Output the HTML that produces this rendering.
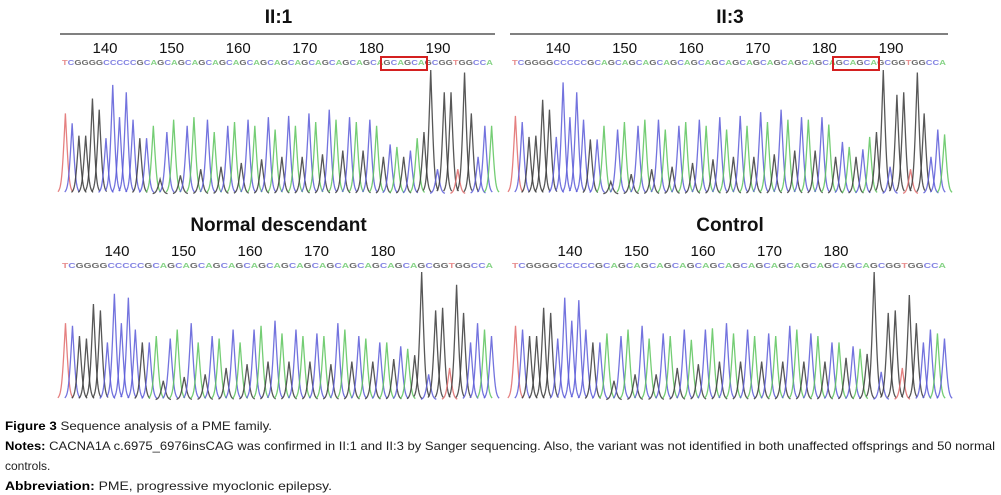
<!DOCTYPE html>
<html><head><meta charset="utf-8"><style>
html,body{margin:0;padding:0;background:#fff;}
svg{display:block;}
</style></head><body>
<svg id="fig" width="1001" height="495" viewBox="0 0 1001 495" xmlns="http://www.w3.org/2000/svg">
<g id="panels"></g>
<g font-family="'Liberation Sans', sans-serif" font-size="12" fill="#222">
<text x="5" y="430" textLength="267" lengthAdjust="spacingAndGlyphs"><tspan font-weight="bold" fill="#000">Figure 3</tspan> Sequence analysis of a PME family.</text>
<text x="5" y="450" textLength="990" lengthAdjust="spacingAndGlyphs"><tspan font-weight="bold" fill="#000">Notes:</tspan> CACNA1A c.6975_6976insCAG was confirmed in II:1 and II:3 by Sanger sequencing. Also, the variant was not identified in both unaffected offsprings and 50 normal</text>
<text x="5" y="470" font-size="12">controls.</text>
<text x="5" y="490" textLength="327" lengthAdjust="spacingAndGlyphs"><tspan font-weight="bold" fill="#000">Abbreviation:</tspan> PME, progressive myoclonic epilepsy.</text>
</g>
</svg>
<script>
// data
const tlBases = "TCGGGGCCCCCG" + "CAG".repeat(14) + "GCGGTGGCCA";
const tlHeights = [.65,.57,.47,.47,.77,.68,.45,.88,.62,.82,.6,.45,
 .45,.55,.12,.5,.6,.15,.55,.62,.2,.6,.5,.22,.55,.58,.25,.6,.55,.28,.62,.52,.3,.63,.55,.3,.65,.58,.32,.68,.6,.35,.62,.58,.35,.6,.55,.3,.4,.38,.3,.35,.45,.5,
 1.0,.2,.82,.82,.2,.98,.65,.3,.55,.55];
const trHeights = [.63,.58,.46,.47,.76,.68,.46,.9,.62,.82,.6,.44,
 .44,.55,.1,.52,.58,.16,.55,.6,.2,.6,.52,.22,.55,.58,.25,.6,.55,.28,.62,.52,.3,.63,.55,.3,.66,.58,.32,.68,.6,.35,.62,.6,.35,.62,.56,.3,.42,.38,.3,.36,.46,.5,
 1.0,.22,.8,.82,.2,.98,.65,.3,.52,.48];
const btBases = "TCGGGGCCCCCG" + "CAG".repeat(13) + "GCGGTGGCCAC";
const blHeights = [.6,.58,.5,.48,.75,.7,.45,.83,.6,.8,.55,.45,
 .45,.5,.15,.48,.55,.18,.6,.45,.2,.5,.48,.25,.55,.45,.28,.55,.58,.3,.62,.52,.3,.55,.5,.3,.52,.5,.28,.6,.55,.3,.5,.48,.3,.45,.45,.32,.42,.4,.35,
 1.0,.2,.7,.72,.25,.9,.68,.45,.6,.55,.5];
const brHeights = [.58,.55,.5,.5,.72,.68,.48,.8,.62,.78,.55,.45,
 .45,.52,.15,.5,.55,.2,.58,.48,.2,.52,.5,.25,.55,.47,.28,.55,.56,.3,.6,.52,.3,.55,.5,.3,.52,.5,.3,.58,.55,.3,.52,.5,.3,.45,.45,.33,.42,.4,.36,
 1.0,.22,.68,.7,.25,.82,.6,.45,.55,.52,.48];
const topSeq = "TCGGGGCCCCCGCAGCAGCAGCAGCAGCAGCAGCAGCAGCAGCAGCAGCAGCAGCGGTGGCCA";
const botSeq = "TCGGGGCCCCCGCAGCAGCAGCAGCAGCAGCAGCAGCAGCAGCAGCAGCGGTGGCCA";
const topTicks = [140,150,160,170,180,190];
const botTicks = [140,150,160,170,180];

const colors = {A:'#5cc45c',C:'#5a5ad8',G:'#3a3a3a',T:'#e06a6a'};
const NS='http://www.w3.org/2000/svg';
const root=document.getElementById('panels');
function mk(tag,attrs,parent){const e=document.createElementNS(NS,tag);for(const k in attrs)e.setAttribute(k,attrs[k]);parent.appendChild(e);return e;}

const panels=[
 {name:'panel-ii1',title:'II:1',x0:62,x1:495,titleY:23,lineY:34,tickY:53,seqY:65,top:70,base:194,ticks:topTicks,t0:105,tstep:66.6,bases:tlBases,h:tlHeights,seq:topSeq,box:[381,57,46,13]},
 {name:'panel-ii3',title:'II:3',x0:512,x1:948,titleY:23,lineY:34,tickY:53,seqY:65,top:70,base:194,ticks:topTicks,t0:558,tstep:66.6,bases:tlBases,h:trHeights,seq:topSeq,box:[833,57,46,13]},
 {name:'panel-normal-descendant',title:'Normal descendant',x0:62,x1:495,titleY:231,lineY:null,tickY:256,seqY:268,top:272,base:400,ticks:botTicks,t0:117,tstep:66.5,bases:btBases,h:blHeights,seq:botSeq,box:null},
 {name:'panel-control',title:'Control',x0:512,x1:948,titleY:231,lineY:null,tickY:256,seqY:268,top:272,base:400,ticks:botTicks,t0:570,tstep:66.5,bases:btBases,h:brHeights,seq:botSeq,box:null}
];
panels.forEach(p=>{
 const g=mk('g',{},root);
 
 
 const t=mk('text',{x:(p.x0+p.x1)/2,y:p.titleY,'text-anchor':'middle','font-family':"'Liberation Sans', sans-serif",'font-size':19,'font-weight':'bold',fill:'#111'},g);
 t.textContent=p.title;
 
 
 if(p.lineY){const l=mk('line',{x1:p.x0-2,x2:p.x1,y1:p.lineY,y2:p.lineY,stroke:'#000','stroke-width':1},g);
  
  }
 p.ticks.forEach((v,i)=>{
  const tx=mk('text',{x:p.t0+i*p.tstep,y:p.tickY,'text-anchor':'middle','font-family':"'Liberation Sans', sans-serif",'font-size':15,fill:'#111'},g);
  tx.textContent=v;
  
  
 });
 const st=mk('text',{x:p.x0,y:p.seqY,'font-family':"'Liberation Sans', sans-serif",'font-size':7,'font-weight':'bold',textLength:p.x1-p.x0-2,lengthAdjust:'spacingAndGlyphs'},g);
 
 
 for(const ch of p.seq){const ts=mk('tspan',{fill:colors[ch],'fill-opacity':0.75},st);ts.textContent=ch;}
 if(p.box){const r=mk('rect',{x:p.box[0],y:p.box[1],width:p.box[2],height:p.box[3],fill:'none',stroke:'#d42020','stroke-width':2},g);
  
  }
 // traces
 const n=p.h.length, step=(p.x1-p.x0)/n, H=p.base-p.top;
 const xs=i=>p.x0+step*(i+0.5), ys=v=>p.base-v*H;
 for(let i=0;i<n;i++){
  const cx=xs(i), hy=ys(p.h[i]); const w=step*1.1, sig=step*0.32;
  let d='';
  for(let k=-16;k<=16;k++){const dx=k/16*w; const v=Math.exp(-Math.abs(dx)/sig*0.9)*0.6+Math.exp(-(dx*dx)/(2*sig*sig))*0.4;
   const y=p.base-(p.base-hy)*v; d+=(k===-16?'M':'L')+(cx+dx).toFixed(2)+','+y.toFixed(2);}
  const pk=mk('path',{d:d,fill:'none',stroke:colors[p.bases[i]],'stroke-width':1.3,'stroke-opacity':0.85},g);
  
  
 }
});
</script>
</body></html>
